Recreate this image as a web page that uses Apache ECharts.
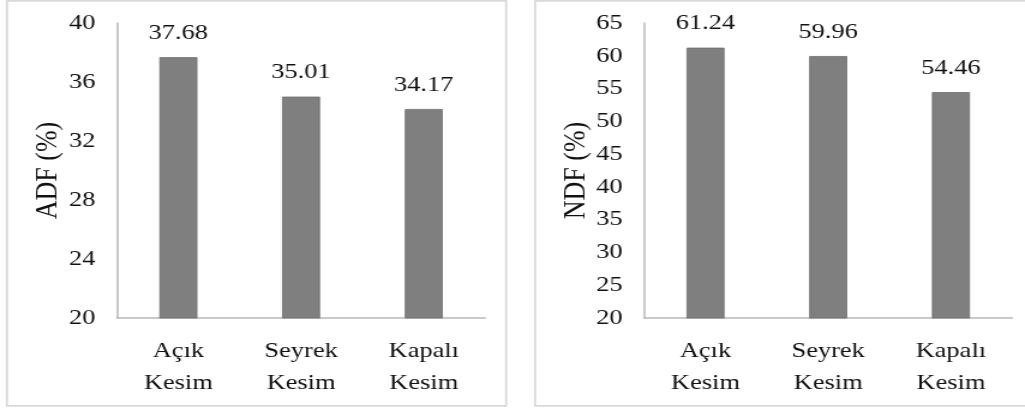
<!DOCTYPE html>
<html>
<head>
<meta charset="utf-8">
<script src="https://cdn.jsdelivr.net/npm/echarts@6/dist/echarts.min.js"></script>
<style>
  html, body { margin: 0; padding: 0; background: #ffffff; overflow: hidden; }
  #wrap { width: 1025px; height: 408px; overflow: hidden; }
  /* the chart is laid out narrower and widened horizontally */
  #chart { width: 854px; height: 408px; transform: scaleX(1.2002); transform-origin: 0 0; }
</style>
</head>
<body>
<div id="wrap"><div id="chart"></div></div>
<script>
// Cutting treatments and fibre fractions
const categories = ['Açık\nKesim', 'Seyrek\nKesim', 'Kapalı\nKesim'];
const adfValues = [37.68, 35.01, 34.17];
const ndfValues = [61.24, 59.96, 54.46];
const adfName = 'ADF (%)';
const ndfName = 'NDF (%)';

const FONT = 'Liberation Serif';
const TEXT = '#111111';
const AXIS = '#b8b8b8';
const BAR = '#7f7f7f';

function xAxis(gridIndex) {
  return {
    type: 'category', gridIndex, data: categories,
    axisLine: { lineStyle: { color: AXIS, width: 1.5 } },
    axisTick: { show: false },
    axisLabel: { color: TEXT, fontFamily: FONT, fontSize: 22, lineHeight: 32, margin: 17 }
  };
}
function yAxis(gridIndex, name, min, max, interval) {
  return {
    type: 'value', gridIndex, name, min, max, interval,
    nameLocation: 'middle', nameGap: 44,
    nameTextStyle: { color: TEXT, fontFamily: FONT, fontSize: 26 },
    axisLine: { show: true, lineStyle: { color: AXIS, width: 1.5 } },
    axisTick: { show: false },
    splitLine: { show: false },
    axisLabel: { color: TEXT, fontFamily: FONT, fontSize: 22, margin: 18 }
  };
}
function bars(idx, data) {
  return {
    type: 'bar', xAxisIndex: idx, yAxisIndex: idx, data,
    barWidth: '31%',
    itemStyle: { color: BAR, borderColor: '#6f6f6f', borderWidth: 0.8 },
    label: {
      show: true, position: 'top', distance: 13,
      color: TEXT, fontFamily: FONT, fontSize: 22,
      formatter: p => p.value.toFixed(2)
    }
  };
}

const chart = echarts.init(document.getElementById('chart'), null, { renderer: 'canvas' });
chart.setOption({
  backgroundColor: '#ffffff',
  animation: false,
  textStyle: { fontFamily: FONT },
  graphic: [
    { type: 'rect', shape: { x: 5.8, y: 0.8, width: 415.9, height: 405 },
      style: { fill: 'none', stroke: '#d9d9d9', lineWidth: 1.8 } },
    { type: 'rect', shape: { x: 445.8, y: 0.8, width: 420, height: 405 },
      style: { fill: 'none', stroke: '#d9d9d9', lineWidth: 1.8 } }
  ],
  grid: [
    { left: 97.5, top: 23, width: 306.7, height: 295 },
    { left: 536.7, top: 23, width: 306.7, height: 295 }
  ],
  xAxis: [xAxis(0), xAxis(1)],
  yAxis: [yAxis(0, adfName, 20, 40, 4), yAxis(1, ndfName, 20, 65, 5)],
  series: [bars(0, adfValues), bars(1, ndfValues)]
});
</script>
</body>
</html>
